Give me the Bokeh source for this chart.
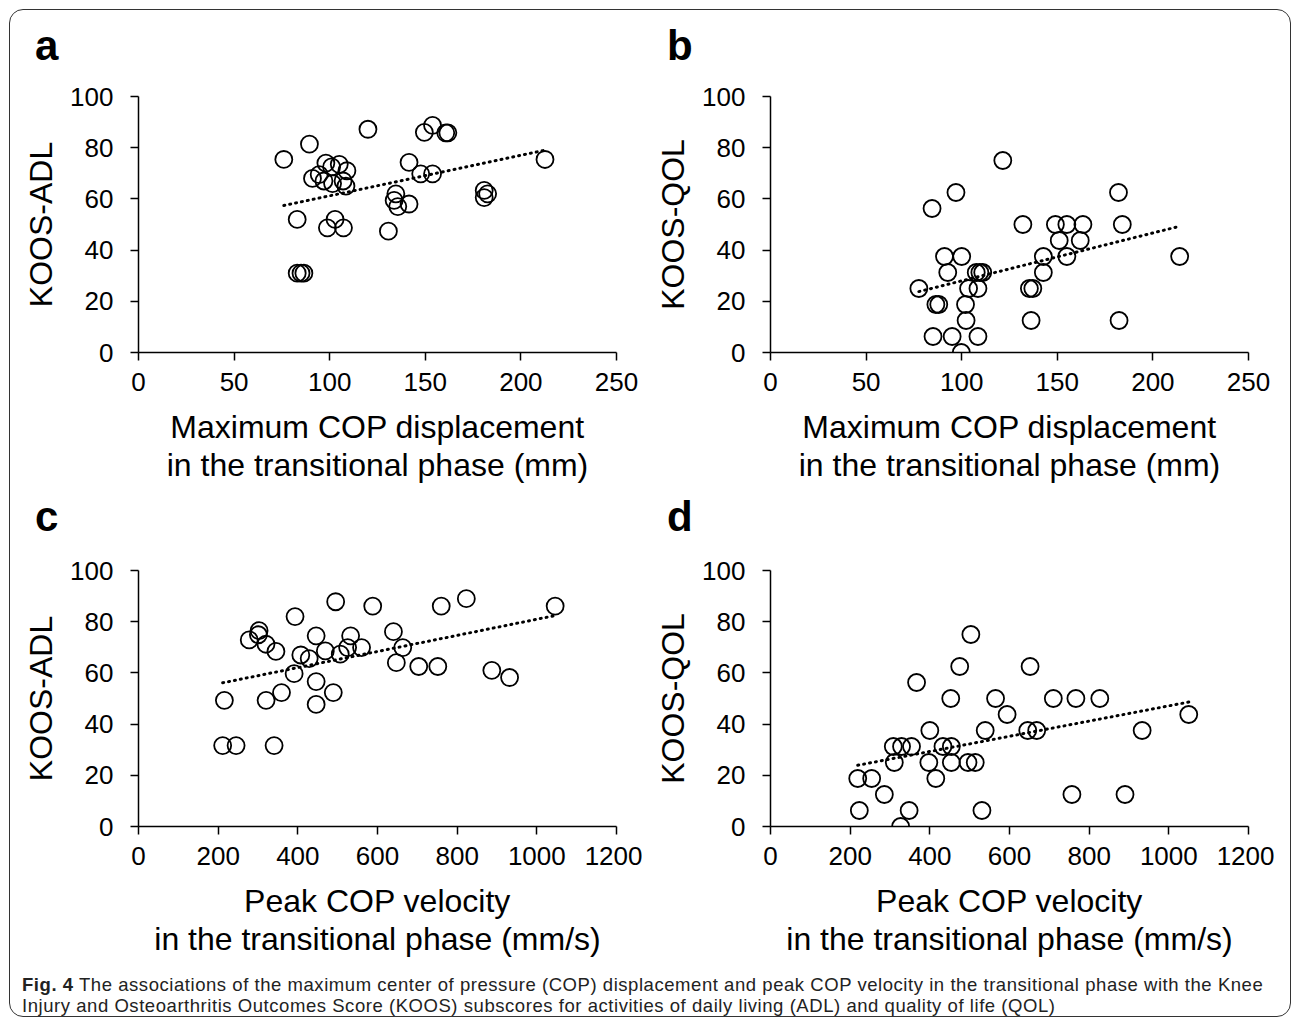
import numpy as np
from bokeh.plotting import figure
from bokeh.layouts import column, row
from bokeh.models import Div, FixedTicker, Range1d
from bokeh.embed import file_html
from bokeh.resources import INLINE

# ---- data ----
disp_ticks = [0, 50, 100, 150, 200, 250]
vel_ticks = [0, 200, 400, 600, 800, 1000, 1200]
score_ticks = [0, 20, 40, 60, 80, 100]

# panel a: maximum COP displacement (mm) vs KOOS-ADL
disp_a = [76, 89.4, 120, 149.5, 153.8, 160.7, 161.8, 141.5, 147.6, 153.8,
          134.6, 133.7, 135.6, 141.5, 180.8, 182.6, 180.8, 83, 98.8, 102.8,
          107.2, 130.7, 83, 85, 86.5, 212.6, 91, 94.5, 98, 101,
          105, 109, 97, 101.5, 107, 108.5]
adl_a = [75.4, 81.4, 87.2, 86, 88.7, 85.8, 85.8, 74.3, 69.8, 69.8,
         62, 59.4, 57, 58, 63.3, 62, 60.5, 52, 48.7, 52,
         48.7, 47.4, 31, 31, 31, 75.4, 68, 69.5, 74, 72.5,
         73.5, 71, 67, 66, 67, 65]

# panel b: maximum COP displacement (mm) vs KOOS-QOL
disp_b = [121.5, 97, 84.5, 182, 132, 149, 155, 163.4, 184, 151,
          162, 214, 91, 100, 142.7, 155, 92.7, 107.6, 109.5, 111,
          142.7, 77.6, 103.6, 108.5, 135.4, 137.2, 86.5, 88, 102, 102.3,
          136.3, 182.3, 85, 95, 108.5, 99.8]
qol_b = [75, 62.5, 56.25, 62.5, 50, 50, 50, 50, 50, 43.75,
         43.75, 37.5, 37.5, 37.5, 37.5, 37.5, 31.25, 31.25, 31.25, 31.25,
         31.25, 25, 25, 25, 25, 25, 18.75, 18.75, 18.75, 12.5,
         12.5, 12.5, 6.25, 6.25, 6.25, 0]

# panel c: peak COP velocity (mm/s) vs KOOS-ADL
vel_c = [495, 588, 760, 823, 1046, 393, 302.7, 301, 278, 320,
         345, 446, 532.5, 640, 469, 506.5, 525, 560, 407.5, 428.5,
         663.4, 390.7, 647.3, 703.5, 751.4, 887, 931.6, 446, 215.6, 320.3,
         359, 489, 446, 211.3, 245, 340.4]
adl_c = [87.8, 86.1, 86.1, 89, 86.1, 82, 76.5, 74.9, 72.9, 71.2,
         68.4, 74.5, 74.5, 76.1, 68.6, 67.3, 69.9, 69.9, 67, 65.6,
         69.9, 59.7, 64, 62.5, 62.5, 61, 58.2, 56.6, 49.3, 49.3,
         52.3, 52.3, 47.7, 31.6, 31.6, 31.6]

# panel d: peak COP velocity (mm/s) vs KOOS-QOL
vel_d = [503, 475, 651.7, 366.7, 452.5, 565, 710, 766.7, 826.7, 594,
         1050, 400, 539, 645.8, 668.3, 933, 308.3, 329, 354, 433,
         454, 310.8, 397.5, 454, 495.8, 514, 219, 254, 415, 285.8,
         756.7, 890, 223, 348, 530.8, 326.7]
qol_d = [75, 62.5, 62.5, 56.25, 50, 50, 50, 50, 50, 43.75,
         43.75, 37.5, 37.5, 37.5, 37.5, 37.5, 31.25, 31.25, 31.25, 31.25,
         31.25, 25, 25, 25, 25, 25, 18.75, 18.75, 18.75, 12.5,
         12.5, 12.5, 6.25, 6.25, 6.25, 0]

disp_label = "Maximum COP displacement\nin the transitional phase (mm)"
vel_label = "Peak COP velocity\nin the transitional phase (mm/s)"

FONT = "Liberation Sans"
FIG_W = 128 + 478 + 26


def letter_div(letter, height, top):
    return Div(
        text=(f'<div style="position:relative; top:{top}px; left:25px; '
              f'font-family:\'Liberation Sans\', Arial, sans-serif; font-weight:bold; '
              f'font-size:42px; line-height:42px; color:black;">{letter}</div>'),
        width=FIG_W, height=height, margin=0)


def panel(xs, ys, xticks, xlabel, ylabel, top):
    xmax = xticks[-1]
    p = figure(frame_width=478, frame_height=256,
               x_range=Range1d(0, xmax), y_range=Range1d(0, 100),
               output_backend="svg", toolbar_location=None,
               min_border_left=128, min_border_right=26,
               min_border_top=top, min_border_bottom=146)
    p.outline_line_color = None
    p.grid.visible = False
    p.background_fill_color = "white"
    p.border_fill_color = "white"

    p.scatter(xs, ys, marker="circle", size=17, fill_color=None,
              line_color="black", line_width=1.8)

    slope, icpt = np.polyfit(xs, ys, 1)
    lx = np.array([min(xs), max(xs)])
    p.line(lx, slope * lx + icpt, line_dash="1 5", line_width=3,
           line_color="black", line_cap="round")

    for ax in (p.xaxis[0], p.yaxis[0]):
        ax.axis_line_width = 1.5
        ax.axis_line_color = "black"
        ax.major_tick_line_color = "black"
        ax.major_tick_line_width = 1.5
        ax.major_tick_in = 0
        ax.major_tick_out = 8
        ax.minor_tick_in = 0
        ax.minor_tick_out = 0
        ax.major_label_text_font = FONT
        ax.major_label_text_font_size = "26px"
        ax.major_label_text_color = "black"
        ax.axis_label_text_font = FONT
        ax.axis_label_text_font_size = "32px"
        ax.axis_label_text_font_style = "normal"
        ax.axis_label_text_color = "black"
        ax.axis_label_text_line_height = 1.08

    xa = p.xaxis[0]
    xa.ticker = FixedTicker(ticks=xticks)
    xa.axis_label = xlabel
    xa.major_label_standoff = 12
    xa.axis_label_standoff = 15

    ya = p.yaxis[0]
    ya.ticker = FixedTicker(ticks=score_ticks)
    ya.axis_label = ylabel
    ya.major_label_standoff = 17
    ya.axis_label_standoff = 8
    return p


pa = column(letter_div("a", 66, 15),
            panel(disp_a, adl_a, disp_ticks, disp_label, "KOOS-ADL", 20))
pb = column(letter_div("b", 66, 15),
            panel(disp_b, qol_b, disp_ticks, disp_label, "KOOS-QOL", 20))
pc = column(letter_div("c", 52, -2),
            panel(vel_c, adl_c, vel_ticks, vel_label, "KOOS-ADL", 20))
pd = column(letter_div("d", 52, -2),
            panel(vel_d, qol_d, vel_ticks, vel_label, "KOOS-QOL", 20))

caption = Div(
    text=("<b>Fig. 4</b> The associations of the maximum center of pressure (COP) "
          "displacement and peak COP velocity in the transitional phase with the Knee<br>"
          "Injury and Osteoarthritis Outcomes Score (KOOS) subscores for activities of "
          "daily living (ADL) and quality of life (QOL)"),
    width=1280, margin=0,
    styles={"font-family": "'Liberation Sans', Arial, sans-serif",
            "font-size": "18.5px", "line-height": "21px", "color": "#222",
            "letter-spacing": "0.55px",
            "padding-left": "12px", "padding-top": "2px", "white-space": "nowrap"})

layout = column(row(pa, pb), row(pc, pd), caption,
                styles={"border": "1.5px solid #333", "border-radius": "14px",
                        "background": "white", "margin-left": "9px",
                        "margin-top": "9px"})

open("out.html", "w").write(file_html(layout, INLINE))
